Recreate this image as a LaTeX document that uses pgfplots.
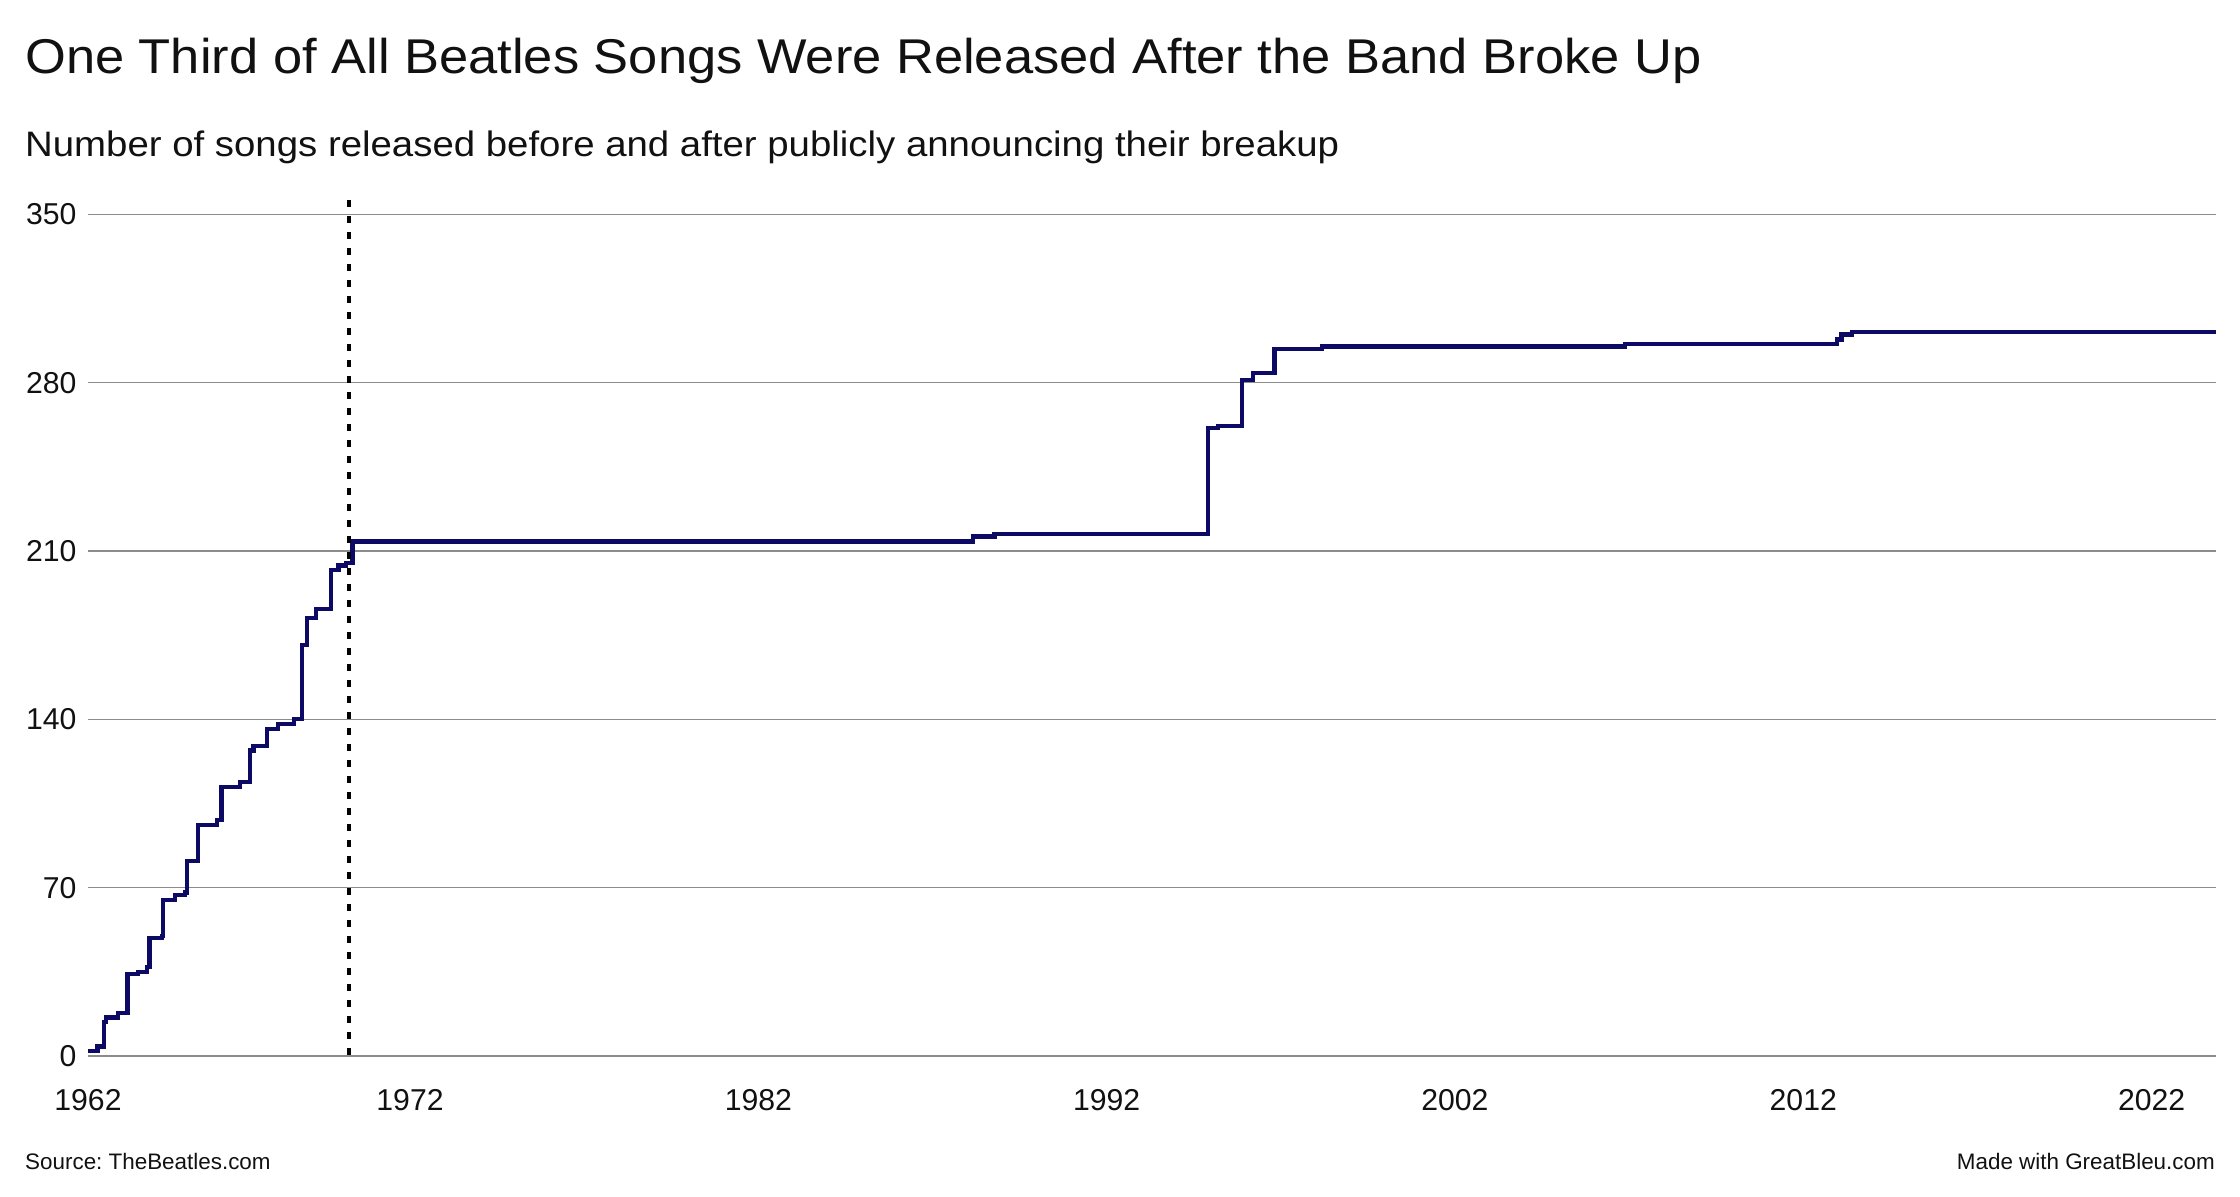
\documentclass[border=0pt]{standalone}
\usepackage{fontspec}
\setmainfont{Liberation Sans}
\usepackage{pgfplots}
\pgfplotsset{compat=1.18}
\definecolor{navy}{RGB}{13,10,102}
\definecolor{gridgray}{RGB}{140,140,140}
\definecolor{txt}{RGB}{17,17,17}
\frenchspacing
\begin{document}
\begin{tikzpicture}[x=1bp,y=1bp]
\useasboundingbox (0,0) rectangle (2240,1196);
\node[anchor=base west, inner sep=0pt, text=txt, font=\fontsize{49}{55}\selectfont] at (25,1122.7) {\scalebox{1.075}[1]{One Third of All Beatles Songs Were Released After the Band Broke Up}};
\node[anchor=base west, inner sep=0pt, text=txt, font=\fontsize{35.5}{40}\selectfont] at (25,1039.3) {\scalebox{1.085}[1]{Number of songs released before and after publicly announcing their breakup}};
\node[anchor=base west, inner sep=0pt, text=txt, font=\fontsize{22.5}{26}\selectfont] at (25,27) {Source: TheBeatles.com};
\node[anchor=base east, inner sep=0pt, text=txt, font=\fontsize{22.5}{26}\selectfont] at (2215,27) {Made with GreatBleu.com};
\begin{axis}[
  at={(88bp,140bp)}, anchor=south west,
  width=2128bp, height=856.1bp, scale only axis,
  xmin=1962.755, xmax=2023.85, ymin=0, ymax=356,
  axis line style={draw=none}, major tick length=0pt,
  ymajorgrids, grid style={gridgray, line width=1.6bp},
  ytick={0,70,140,210,280,350},
  yticklabels={0,70,140,210,280,350},
  xtick={1962.755,1972,1982,1992,2002,2012,2022},
  xticklabels={1962,1972,1982,1992,2002,2012,2022},
  ticklabel style={font=\fontsize{30.3}{34}\selectfont, inner sep=0pt, text=txt},
  yticklabel style={anchor=east, xshift=-11.3bp},
  xticklabel style={anchor=base, yshift=-54bp},
  clip=false,
]
\addplot[const plot, navy, line width=4.3bp] coordinates {
(1962.755,2) (1963.03,4) (1963.22,14) (1963.28,16) (1963.62,18) (1963.89,34)
(1964.20,35) (1964.45,37) (1964.52,49) (1964.88,50) (1964.91,65) (1965.26,67)
(1965.54,68) (1965.60,81) (1965.92,96) (1966.45,98) (1966.59,112) (1967.12,114)
(1967.41,127) (1967.51,129) (1967.90,136) (1968.20,138) (1968.66,140) (1968.89,171)
(1969.04,182) (1969.30,186) (1969.73,202) (1969.95,204) (1970.17,205) (1970.35,214)
(1988.17,216) (1988.78,217) (1994.91,261) (1995.20,262) (1995.89,281) (1996.21,284)
(1996.82,294) (1998.18,295) (2006.88,296) (2012.96,298) (2013.10,300) (2013.39,301)
(2023.85,301)
};
\addplot[black, line width=3.7bp, dash pattern=on 6.7bp off 9.3bp] coordinates {(1970.257,356) (1970.257,0)};
\end{axis}
\end{tikzpicture}
\end{document}
